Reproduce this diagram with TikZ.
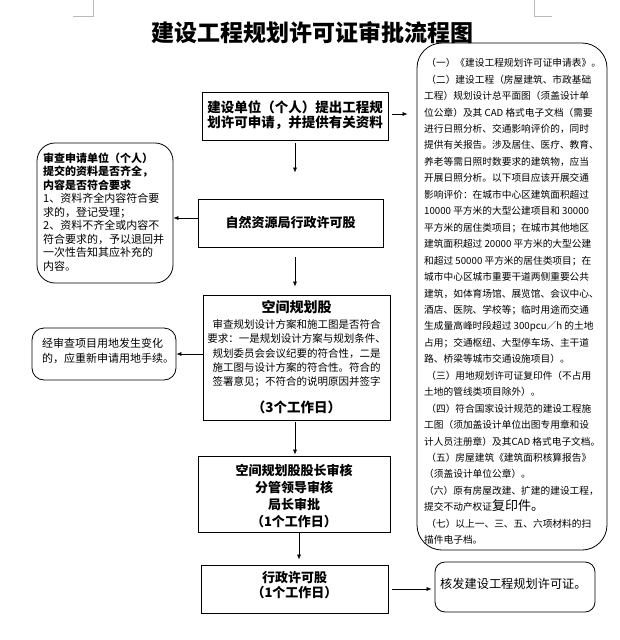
\documentclass[tikz,border=0pt]{standalone}
\usepackage{fontspec}
\setmainfont{Noto Sans CJK SC}
\usetikzlibrary{arrows.meta,calc}
\newcommand\myfs[2]{\fontsize{#1}{#2}\selectfont}
\tikzset{
  box/.style={draw, line width=0.8pt, rectangle, inner sep=0pt},
  rbox/.style={draw, line width=0.8pt, rectangle, inner sep=0pt, rounded corners=#1},
  arr/.style={-{Latex[length=5pt,width=4pt]}, line width=0.6pt},
  txt/.style={inner sep=0pt, align=center},
  ltxt/.style={inner sep=0pt, align=left},
  cornermark/.style={draw=gray!55, line width=0.6pt},
}
\begin{document}
\begin{tikzpicture}[x=1pt,y=-1pt]
\useasboundingbox (0,0) rectangle (619,640);
\fill[white] (0,0) rectangle (619,640);
% corner marks
\draw[cornermark] (73,16) -- (93,16) -- (93,0);
\draw[cornermark] (552,16) -- (534,16) -- (534,0);
% title
\node[txt, font=\bfseries\myfs{23}{23}] (title) at (312,33) {建设工程规划许可证审批流程图};
% boxes
\node[box, minimum width=186pt, minimum height=48pt] (b1) at (295,116) {};
\node[box, minimum width=185pt, minimum height=48pt] (b2) at (290.5,223) {};
\node[box, minimum width=187pt, minimum height=125pt] (b3) at (296.5,357.5) {};
\node[box, minimum width=192pt, minimum height=76pt] (b4) at (294,494) {};
\node[box, minimum width=187pt, minimum height=48pt] (b5) at (294.5,589) {};
\node[rbox=10pt, minimum width=160pt, minimum height=50pt] (b6) at (515,587) {};
\node[rbox=25pt, minimum width=190pt, minimum height=507pt] (R) at (512,296.5) {};
\node[rbox=18pt, minimum width=136pt, minimum height=140pt] (L1) at (105,213) {};
\node[rbox=12pt, minimum width=144pt, minimum height=52pt] (L2) at (104,354) {};
% texts
\node[txt, font=\bfseries\myfs{13.5}{15.5}] (t1) at (295,115) {建设单位（个人）提出工程规\\划许可申请，并提供有关资料};
\node[txt, font=\bfseries\myfs{13}{15}] (t2) at (290.5,223) {自然资源局行政许可股};
\node[txt, font=\bfseries\myfs{14}{15}] (t3a) at (296.5,307) {空间规划股};
\node[txt, font=\myfs{10.5}{14.2}] (t3b) at (296.5,353.5) {审查规划设计方案和施工图是否符合\\要求：一是规划设计方案与规划条件、\\规划委员会会议纪要的符合性，二是\\施工图与设计方案的符合性。符合的\\签署意见；不符合的说明原因并签字};
\node[txt, font=\bfseries\myfs{13.5}{15}] (t3c) at (296.5,407) {（3个工作日）};
\node[txt, font=\bfseries\myfs{13}{17.3}] (t4) at (294,496) {空间规划股股长审核\\分管领导审核\\局长审批\\（1个工作日）};
\node[txt, font=\bfseries\myfs{13}{15}] (t5) at (294.5,585.5) {行政许可股\\（1个工作日）};
\node[ltxt, anchor=west, font=\myfs{12.2}{14}] (t6) at (440,584) {核发建设工程规划许可证。};
\node[ltxt, anchor=west, font=\myfs{11}{13.5}] (tL1) at (43,212) {\bfseries 审查申请单位（个人）\\\bfseries 提交的资料是否齐全，\\\bfseries 内容是否符合要求\\1、资料齐全内容符合要\\求的，登记受理；\\2、资料不齐全或内容不\\符合要求的，予以退回并\\一次性告知其应补充的\\内容。};
\node[ltxt, anchor=west, font=\myfs{11}{15}] (tL2) at (42,350.5) {经审查项目用地发生变化\\的，应重新申请用地手续。};
\node[ltxt, anchor=west, font=\myfs{9.7}{16.45}] (tR) at (424,301.5) {%
\ （一）《建设工程规划许可证申请表》。\\
\ （二）建设工程（房屋建筑、市政基础\\
工程）规划设计总平面图（须盖设计单\\
位公章）及其 CAD 格式电子文档（需要\\
进行日照分析、交通影响评价的，同时\\
提供有关报告。涉及居住、医疗、教育、\\
养老等需日照时数要求的建筑物，应当\\
开展日照分析。以下项目应该开展交通\\
影响评价：在城市中心区建筑面积超过\\
10000 平方米的大型公建项目和 30000\\
平方米的居住类项目；在城市其他地区\\
建筑面积超过 20000 平方米的大型公建\\
和超过 50000 平方米的居住类项目；在\\
城市中心区城市重要干道两侧重要公共\\
建筑，如体育场馆、展览馆、会议中心、\\
酒店、医院、学校等；临时用途而交通\\
生成量高峰时段超过 300pcu／h 的土地\\
占用；交通枢纽、大型停车场、主干道\\
路、桥梁等城市交通设施项目）。\\
\ （三）用地规划许可证复印件（不占用\\
土地的管线类项目除外）。\\
\ （四）符合国家设计规范的建设工程施\\
工图（须加盖设计单位出图专用章和设\\
计人员注册章）及其CAD 格式电子文档。\\
\ （五）房屋建筑《建筑面积核算报告》\\
（须盖设计单位公章）。\\
（六）原有房屋改建、扩建的建设工程，\\
提交不动产权证{\myfs{13}{16}复印件。}\\
\ （七）以上一、三、五、六项材料的扫\\
描件电子档。};
% connectors
\draw[arr, shorten <=3pt, shorten >=26pt] (b1.south) -- (b1.south |- b2.north);
\draw[arr, shorten <=10pt, shorten >=8pt] (b2.south -| b1.south) -- (b3.north -| b1.south);
\draw[arr, shorten <=2pt, shorten >=1pt] (b3.south -| b1.south) -- (b4.north -| b1.south);
\draw[arr, shorten >=5pt] ($(b4.south)+(5,0)$) -- ($(b5.north)+(4.5,0)$);
\draw[arr, shorten <=4pt, shorten >=9pt] ($(b1.east)+(0,-2)$) -- ($(b1.east -| R.west)+(0,-2)$);
\draw[arr] ($(b2.west)+(0,-5)$) -- ($(b2.west -| L1.east)+(0,-5)$);
\draw[arr] (L2.east -| b3.west) -- (L2.east);
\draw[arr, shorten <=4pt, shorten >=3pt] (b5.east) -- (b5.east -| b6.west);
\end{tikzpicture}
\end{document}
